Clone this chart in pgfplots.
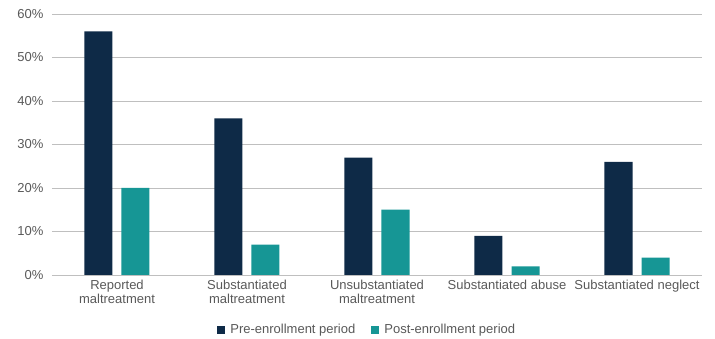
\documentclass[border=0pt]{standalone}
\usepackage{pgfplots}
\pgfplotsset{compat=1.18}
\usepackage{fontspec}
\setmainfont{Liberation Sans}
\definecolor{navy}{HTML}{0E2A47}
\definecolor{teal2}{HTML}{169695}
\definecolor{txt}{HTML}{595959}
\definecolor{grid}{HTML}{D9D9D9}
\begin{document}
\begin{tikzpicture}
\useasboundingbox (-52pt,-64pt) rectangle (663pt,275pt);
\begin{axis}[
  at={(0pt,0pt)}, anchor=south west,
  scale only axis, width=650pt, height=261pt,
  ybar, bar width=28pt,
  xmin=-0.5, xmax=4.5, ymin=0, ymax=60,
  xtick={0,1,2,3,4},
  xticklabels={{Reported\\maltreatment},{Substantiated\\maltreatment},{Unsubstantiated\\maltreatment},{Substantiated abuse},{Substantiated neglect}},
  ytick={0,10,20,30,40,50,60},
  yticklabel={\pgfmathprintnumber{\tick}\%},
  /pgf/number format/assume math mode=true,
  xmajorgrids=false, ymajorgrids=true,
  grid style={grid, line width=0.8pt},
  axis line style={draw=none},
  major tick length=0pt,
  tick style={draw=none},
  tick label style={font=\fontsize{13}{14}\selectfont, text=txt},
  xticklabel style={align=center, yshift=-2pt},
  yticklabel style={xshift=-5pt},
  legend style={draw=none, at={(0.485,0)}, anchor=north, yshift=-45pt,
    legend columns=2, font=\fontsize{13}{14}\selectfont, text=txt,
    /tikz/every odd column/.append style={column sep=3pt},
    /tikz/every even column/.append style={column sep=14pt}},
  legend image code/.code={\fill[#1] (0pt,-4pt) rectangle (8pt,4pt);},
  clip=false,
]
\addplot[fill=navy, draw=none, bar shift=-18.5pt] coordinates {(0,56) (1,36) (2,27) (3,9) (4,26)};
\addplot[fill=teal2, draw=none, bar shift=18.5pt] coordinates {(0,20) (1,7) (2,15) (3,2) (4,4)};
\legend{Pre-enrollment period, Post-enrollment period}
\end{axis}
\end{tikzpicture}
\end{document}
